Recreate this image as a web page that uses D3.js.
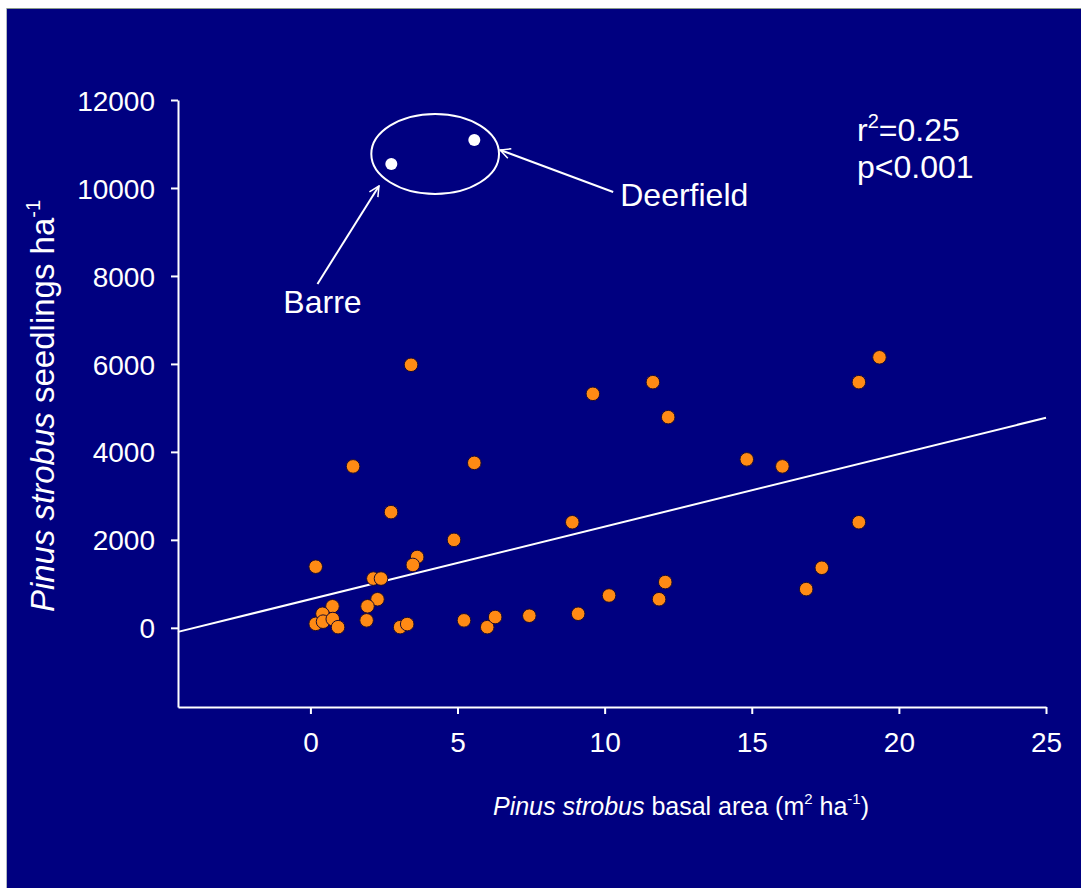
<!DOCTYPE html>
<html>
<head>
    <meta charset="utf-8">
    <title>pinus strobus seedlings</title>
    <style>
        body { margin: 0; background: #ffffff; }
        text { font-family: "Liberation Sans", Arial, sans-serif; fill: #ffffff; }
    </style>
</head>
<body>
<script src="https://d3js.org/d3.v7.min.js"></script>
<script type="text/javascript">
    // basal area (m2/ha) and seedlings/ha
    var basalArea = [3.42, 1.45, 5.57, 2.74, 4.88, 0.18, 3.63, 3.48, 2.14, 2.40,
        2.28, 0.75, 1.94, 0.41, 0.18, 0.43, 0.76, 0.94, 1.91, 3.05,
        3.29, 5.22, 6.01, 6.28, 7.44, 9.10, 10.15, 11.85, 12.06, 8.90,
        9.60, 11.64, 12.16, 14.83, 16.04, 16.85, 17.38, 18.64, 18.64, 19.34];
    var seedlings = [5980, 3670, 3750, 2630, 2000, 1390, 1610, 1430, 1120, 1120,
        650, 490, 490, 320, 90, 140, 200, 15, 170, 15,
        85, 170, 15, 245, 275, 320, 735, 650, 1040, 2400,
        5320, 5585, 4790, 3830, 3670, 880, 1365, 2400, 5585, 6150];

    // the two outlier sites (white points)
    var siteNames = ["Barre", "Deerfield"];
    var siteBasal = [2.75, 5.57];
    var siteSeedlings = [10545, 11090];

    // regression line y = a + b*x
    var fitA = 651, fitB = 165;

    var xTicks = [0, 5, 10, 15, 20, 25];
    var yTicks = [0, 2000, 4000, 6000, 8000, 10000, 12000];

    var width = 1081, height = 888;

    var svg = d3.select('body')
        .append('svg')
        .attr('width', width).attr('height', height);

    // slide background
    svg.append('rect')
        .attr('x', 7).attr('y', 9)
        .attr('width', width - 7).attr('height', height - 9)
        .attr('fill', '#000080');
    svg.append('line').attr('x1', 6).attr('x2', width).attr('y1', 8.5).attr('y2', 8.5)
        .attr('stroke', '#8a9a8a').attr('stroke-width', 1);
    svg.append('line').attr('x1', 6.5).attr('x2', 6.5).attr('y1', 8).attr('y2', height)
        .attr('stroke', '#b0b8c0').attr('stroke-width', 1);

    var x = d3.scaleLinear().domain([-4.5, 25]).range([178, 1046]);
    var y = d3.scaleLinear().domain([-1800, 12000]).range([707, 100]);

    // axes
    var xAxis = svg.append('g')
        .attr('transform', 'translate(0,707)')
        .call(d3.axisBottom(x).tickValues(xTicks).tickFormat(d3.format('d'))
            .tickSize(7).tickPadding(18).tickSizeOuter(0));
    var yAxis = svg.append('g')
        .attr('transform', 'translate(178,0)')
        .call(d3.axisLeft(y).tickValues(yTicks).tickFormat(d3.format('d'))
            .tickSize(7).tickPadding(16).tickSizeOuter(0));

    [xAxis, yAxis].forEach(function (g) {
        g.select('.domain').attr('stroke', '#ffffff').attr('stroke-width', 2);
        g.selectAll('.tick line').attr('stroke', '#ffffff').attr('stroke-width', 2);
        g.selectAll('.tick text')
            .attr('fill', '#ffffff')
            .attr('font-size', '28px')
            .attr('font-family', '"Liberation Sans", Arial, sans-serif');
    });
    yAxis.selectAll('.tick text').attr('dy', '0.36em');

    // regression line
    svg.append('line')
        .attr('x1', x(-4.5)).attr('y1', y(fitA + fitB * -4.5))
        .attr('x2', x(25)).attr('y2', y(fitA + fitB * 25))
        .attr('stroke', '#ffffff').attr('stroke-width', 2);

    // orange points
    svg.selectAll('circle.pt')
        .data(d3.range(basalArea.length))
        .enter()
        .append('circle')
        .attr('class', 'pt')
        .attr('cx', function (i) { return x(basalArea[i]); })
        .attr('cy', function (i) { return y(seedlings[i]); })
        .attr('r', 6.8)
        .attr('fill', '#ff8a14')
        .attr('stroke', '#1a0a30')
        .attr('stroke-width', 1);

    // white outliers
    svg.selectAll('circle.site')
        .data(d3.range(siteNames.length))
        .enter()
        .append('circle')
        .attr('class', 'site')
        .attr('cx', function (i) { return x(siteBasal[i]); })
        .attr('cy', function (i) { return y(siteSeedlings[i]); })
        .attr('r', 6)
        .attr('fill', '#ffffff');

    // ellipse round them
    var cx = x(4.24), cy = y(10773);
    svg.append('ellipse')
        .attr('cx', cx).attr('cy', cy)
        .attr('rx', x(4.24 + 2.17) - cx).attr('ry', cy - y(10773 + 909))
        .attr('fill', 'none').attr('stroke', '#ffffff').attr('stroke-width', 2);

    // arrows
    var defs = svg.append('defs');
    defs.append('marker')
        .attr('id', 'head')
        .attr('viewBox', '0 0 12 12')
        .attr('refX', 11).attr('refY', 6)
        .attr('markerWidth', 12).attr('markerHeight', 12)
        .attr('markerUnits', 'userSpaceOnUse')
        .attr('orient', 'auto')
        .append('path')
        .attr('d', 'M1,1 L11,6 L1,11')
        .attr('fill', 'none').attr('stroke', '#ffffff').attr('stroke-width', 1.5);

    svg.append('line')
        .attr('x1', x(0.24)).attr('y1', y(7818))
        .attr('x2', x(2.33)).attr('y2', y(10045))
        .attr('stroke', '#ffffff').attr('stroke-width', 2)
        .attr('marker-end', 'url(#head)');
    svg.append('line')
        .attr('x1', x(10.29)).attr('y1', y(9909))
        .attr('x2', x(6.45)).attr('y2', y(10864))
        .attr('stroke', '#ffffff').attr('stroke-width', 2)
        .attr('marker-end', 'url(#head)');

    svg.append('text').text(siteNames[0])
        .attr('x', x(-0.92)).attr('y', y(7159))
        .attr('font-size', '32px');
    svg.append('text').text(siteNames[1])
        .attr('x', x(10.53)).attr('y', y(9591))
        .attr('font-size', '32px');

    // stats
    var r2 = svg.append('text').attr('x', 857).attr('y', 141).attr('font-size', '32px');
    r2.append('tspan').text('r');
    r2.append('tspan').text('2').attr('font-size', '20px').attr('dy', '-13');
    r2.append('tspan').text('=0.25').attr('dy', '13');
    svg.append('text').text('p<0.001')
        .attr('x', 857).attr('y', 178).attr('font-size', '32px');

    // axis titles
    var xt = svg.append('text')
        .attr('x', 681).attr('y', 815)
        .attr('text-anchor', 'middle')
        .attr('font-size', '25px');
    xt.append('tspan').text('Pinus strobus').attr('font-style', 'italic');
    xt.append('tspan').text(' basal area (m');
    xt.append('tspan').text('2').attr('font-size', '15px').attr('dy', '-11');
    xt.append('tspan').text(' ha').attr('dy', '11');
    xt.append('tspan').text('-1').attr('font-size', '15px').attr('dy', '-11');
    xt.append('tspan').text(')').attr('dy', '11');

    var yt = svg.append('text')
        .attr('transform', 'translate(54,406) rotate(-90)')
        .attr('text-anchor', 'middle')
        .attr('font-size', '33px');
    yt.append('tspan').text('Pinus strobus').attr('font-style', 'italic');
    yt.append('tspan').text(' seedlings ha');
    yt.append('tspan').text('-1').attr('font-size', '20px').attr('dy', '-14');
</script>
</body>
</html>
